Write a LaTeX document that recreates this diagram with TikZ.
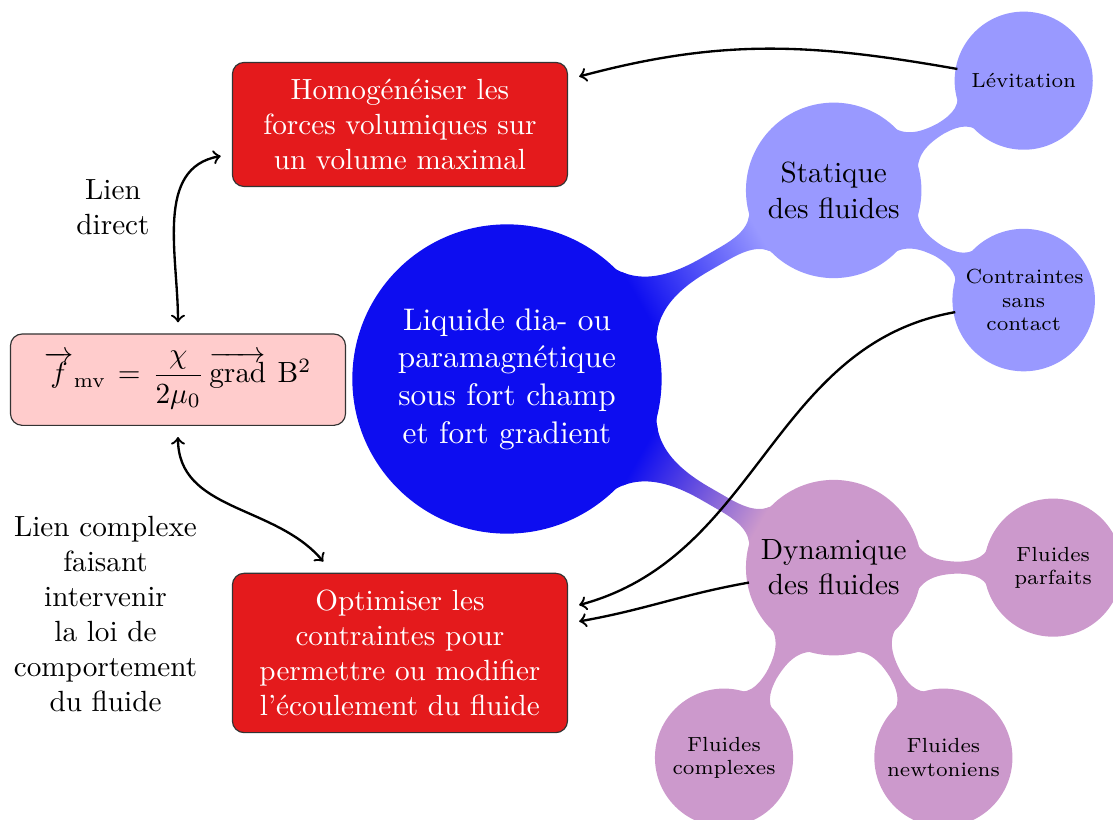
\documentclass[tikz,border=0pt]{standalone}
\usepackage{amsmath}
\usetikzlibrary{mindmap}

\definecolor{bleuracine}{RGB}{13,13,240}
\definecolor{rougeobj}{RGB}{228,26,28}

\tikzset{
  racine/.style={concept, concept color=bleuracine, text=white, align=center,
    minimum size=3.68cm, text width=2.75cm, font=\fontsize{10.7}{12.9}\selectfont},
  niveauun/.style={concept, text=black, align=center, minimum size=2.07cm,
    text width=1.85cm, font=\normalsize},
  niveaudeux/.style={concept, text=black, align=center, minimum size=1.62cm,
    text width=1.4cm, font=\scriptsize},
  objectif/.style={draw=black!80, fill=rougeobj, text=white, rounded corners=4pt,
    text width=3.8cm, align=center, inner xsep=3.3pt, inner ysep=5.7pt, outer sep=4pt},
  formulebox/.style={objectif, fill=red!20, text=black},
  lien/.style={align=center},
  fleche/.style={thick},
}

\begin{document}
\begin{tikzpicture}
  \useasboundingbox (0,0) rectangle (13.394,-9.868);
  % carte mentale
  \begin{scope}[mindmap, concept color=bleuracine]
    \node[racine] (liquide) at (6.101,-4.561)
      {Liquide dia- ou\\ paramagnétique\\ sous fort champ\\ et fort gradient}
      child[grow=30, level distance=4.54cm, concept color=blue!40] {
        node[niveauun] (statique) {Statique\\ des fluides}
        child[grow=30, level distance=2.64cm] {node[niveaudeux] (levitation) {Lévitation}}
        child[grow=-30, level distance=2.64cm] {node[niveaudeux] (contraintes) {Contraintes\\ sans\\ contact}}
      }
      child[grow=-30, level distance=4.54cm, concept color=violet!40] {
        node[niveauun] (dynamique) {Dynamique\\ des fluides}
        child[grow=0, level distance=2.64cm] {node[niveaudeux] (parfaits) {Fluides\\ parfaits}}
        child[grow=-60, level distance=2.64cm] {node[niveaudeux] (newtoniens) {Fluides\\ newtoniens}}
        child[grow=-120, level distance=2.64cm] {node[niveaudeux] (complexes) {Fluides\\ complexes}}
      };
  \end{scope}
  % objectifs
  \node[objectif] (homog) at (4.813,-1.498)
    {Homogénéiser les\\ forces volumiques sur\\ un volume maximal};
  \node[objectif] (optim) at (4.813,-7.858)
    {Optimiser les\\ contraintes pour\\ permettre ou modifier\\ l'écoulement du fluide};
  \node[formulebox] (formule) at (2.142,-4.569)
    {$\overrightarrow{f}_{\mathrm{mv}} = \dfrac{\chi}{2\mu_0}\,\overrightarrow{\mathrm{grad}}\;\mathrm{B}^2$};
  \node[lien] (liendirect) at (1.360,-2.491) {Lien\\ direct};
  \node[lien] (liencomplexe) at (1.270,-7.389)
    {Lien complexe\\ faisant\\ intervenir\\ la loi de\\ comportement\\ du fluide};
  % liens
  \draw[fleche, <->] (formule) to[out=90, in=190] (homog);
  \draw[fleche, <->] (formule) to[out=-90, in=130] (optim);
  \draw[fleche, ->] (levitation) to[out=170, in=15] (homog);
  \draw[fleche, ->] (contraintes) to[out=190, in=15] (optim);
  \draw[fleche, ->] (dynamique) to[out=190, in=10] (optim);
\end{tikzpicture}
\end{document}
